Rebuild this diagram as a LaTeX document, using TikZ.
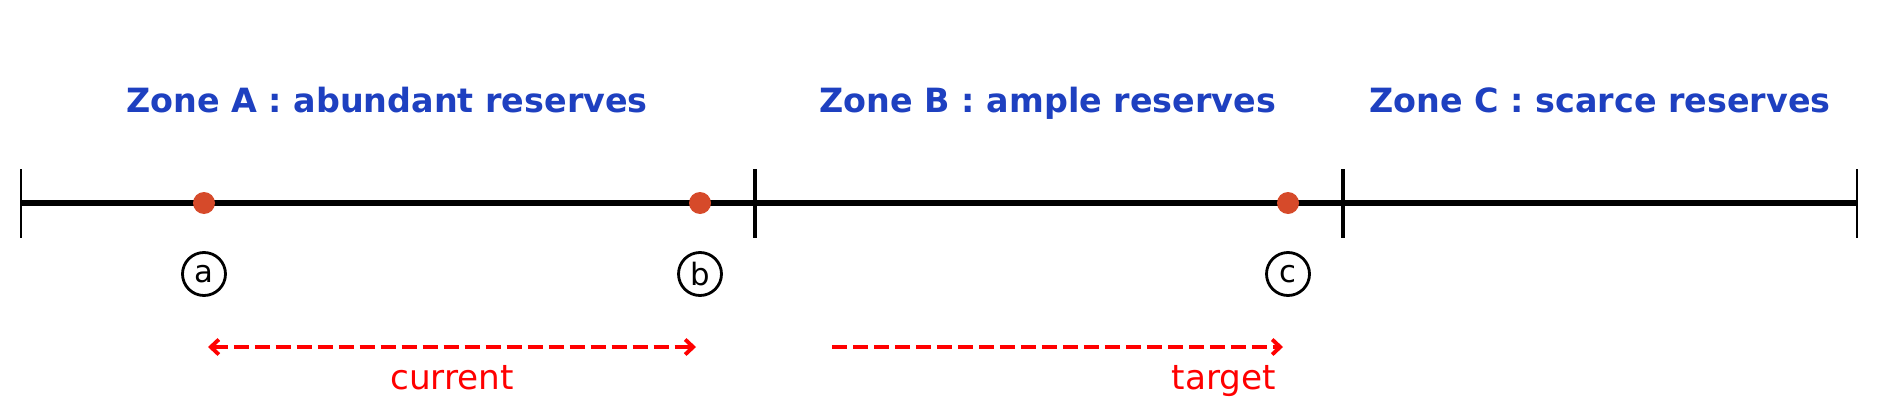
\documentclass[tikz,border=0pt]{standalone}
\usepackage{fontspec}
\setmainfont{DejaVu Sans}
\usepackage{xcolor}
\usepackage{tikz}
\usetikzlibrary{arrows.meta}
\usetikzlibrary{positioning}

\definecolor{zoneblue}{RGB}{30,64,192}
\definecolor{dotred}{RGB}{214,74,42}

\begin{document}
\begin{tikzpicture}[x=0.02cm, y=-0.02cm,
			zone/.style={
					text=zoneblue,
					font=\fontsize{19pt}{23pt}\selectfont\bfseries,
					anchor=base,
					inner sep=0
				},
			dot/.style={circle, fill=dotred, inner sep=0, minimum size=0.44cm},
			tag/.style={circle, draw, line width=1.6pt, inner sep=0, minimum size=0.86cm,
					font=\fontsize{17.5pt}{20pt}\selectfont},
			axis/.style={line width=2.9pt},
			tick/.style={line width=2.4pt},
			endtick/.style={line width=1.5pt},
			spanline/.style={draw=red, line width=2.2pt, dash pattern=on 0.3cm off 0.12cm,
					>={Straight Barb[length=0.16cm, width=0.3cm, line width=2.2pt]}},
			spanlabel/.style={text=red, font=\fontsize{19.5pt}{23pt}\selectfont, anchor=base, inner sep=0}
		]
		\useasboundingbox (0,0) rectangle (1878,419);
		% Axis
		\coordinate (start) at (21,203);
		\coordinate (finish) at (1857,203);
		\draw [axis] (start) -- (finish);
		\draw [endtick] (21,169) -- (21,238);
		\draw [endtick] (1857,169) -- (1857,238);
		\draw [tick] (755,169) -- (755,238);
		\draw [tick] (1343,169) -- (1343,238);
		% Zone titles
		\node [zone] (zonea) at (387,112) {Zone A : abundant reserves};
		\node [zone] (zoneb) at (1048,112) {Zone B : ample reserves};
		\node [zone] (zonec) at (1600,112) {Zone C : scarce reserves};
		% Points
		\node [dot] (pa) at (204,203) {};
		\node [dot] (pb) at (700,203) {};
		\node [dot] (pc) at (1288,203) {};
		\node [tag] (la) at (204,274) {a};
		\node [tag] (lb) at (700,274) {b};
		\node [tag] (lc) at (1288,274) {c};
		% Ranges
		\coordinate (curl) at (208,347);
		\coordinate (curr) at (696,347);
		\coordinate (tgtl) at (832,347);
		\coordinate (tgtr) at (1283,347);
		\draw [spanline, <->] (curl) -- (curr);
		\draw [spanline, ->] (tgtl) -- (tgtr);
		\node [spanlabel] (current) at (452,389) {current};
		\node [spanlabel] (target) at (1224,389) {target};
	\end{tikzpicture}
\end{document}
